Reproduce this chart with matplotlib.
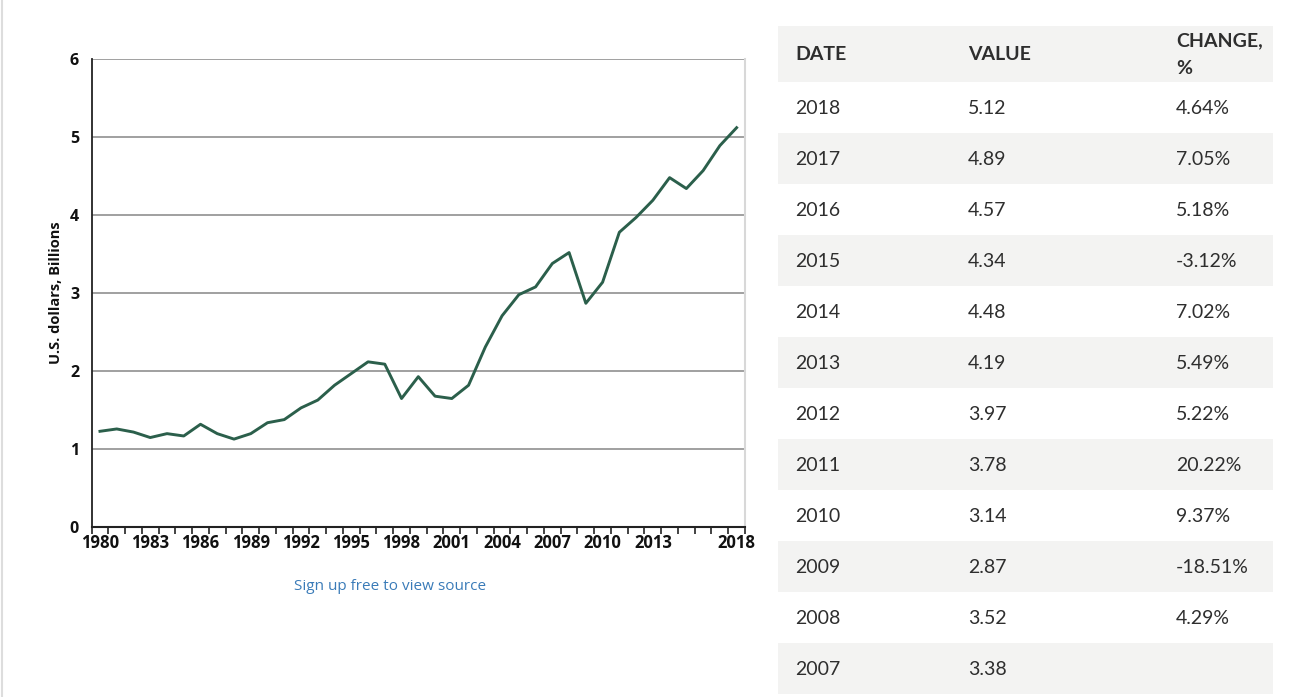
import matplotlib
matplotlib.use("Agg")
import matplotlib.pyplot as plt
from matplotlib.patches import Rectangle
from matplotlib.lines import Line2D

# ---- data ----
years = list(range(1980, 2019))
values = [1.23, 1.26, 1.22, 1.15, 1.20, 1.17, 1.32, 1.20, 1.13, 1.20,
          1.34, 1.38, 1.53, 1.63, 1.82, 1.97, 2.12, 2.09, 1.65, 1.93,
          1.68, 1.65, 1.82, 2.31, 2.71, 2.98, 3.08, 3.38, 3.52, 2.87,
          3.14, 3.78, 3.97, 4.19, 4.48, 4.34, 4.57, 4.89, 5.12]
xtick_labels = [1980, 1983, 1986, 1989, 1992, 1995, 1998, 2001, 2004, 2007, 2010, 2013, 2018]
yticks = [0, 1, 2, 3, 4, 5, 6]

table_header = ["DATE", "VALUE", "CHANGE,", "%"]
table_dates = ["2018", "2017", "2016", "2015", "2014", "2013", "2012", "2011", "2010", "2009", "2008", "2007"]
table_values = ["5.12", "4.89", "4.57", "4.34", "4.48", "4.19", "3.97", "3.78", "3.14", "2.87", "3.52", "3.38"]
table_changes = ["4.64%", "7.05%", "5.18%", "-3.12%", "7.02%", "5.49%", "5.22%", "20.22%", "9.37%", "-18.51%", "4.29%", ""]

W, H = 1292, 697
fig = plt.figure(figsize=(W / 100, H / 100), dpi=100)
fig.patch.set_facecolor("white")

# ---- chart ----
L, R, T, B = 91.6, 745, 59, 527.3
ax = fig.add_axes([L / W, 1 - B / H, (R - L) / W, (B - T) / H])
ax.plot(years, values, color="#2b5f4b", lw=2.1, zorder=3)
ax.set_xlim(1979.5, 2018.5)
ax.set_ylim(0, 6)
ax.set_yticks(yticks)
ax.set_yticklabels([str(v) for v in yticks], fontfamily="Open Sans", fontweight="bold", fontsize=11.5)
ax.tick_params(axis="y", length=0, pad=9, colors="#111111")
for v in yticks[1:]:
    ax.axhline(v, color="#a0a0a0", lw=1.4, zorder=1)
ax.set_xticks([y + 0.5 for y in range(1979, 2019)])
ax.set_xticklabels([])
ax.tick_params(axis="x", which="major", length=5, width=1.2, direction="out", color="#222222")
ax.set_xticks(xtick_labels, minor=True)
ax.set_xticklabels([str(v) for v in xtick_labels], minor=True,
                   fontfamily="Open Sans", fontweight="bold", fontsize=12)
ax.tick_params(axis="x", which="minor", length=0, pad=5, colors="#111111")
ax.spines["top"].set_visible(False)
ax.spines["right"].set_color("#d8d8d8")
ax.spines["right"].set_linewidth(1.5)
ax.spines["left"].set_color("#222222")
ax.spines["left"].set_linewidth(1.3)
ax.spines["bottom"].set_color("#222222")
ax.spines["bottom"].set_linewidth(1.5)
ax.set_ylabel("U.S. dollars, Billions", fontfamily="Open Sans", fontweight="bold",
              fontsize=10.5, color="#111111", labelpad=5)

# ---- overlay in pixel coords ----
ov = fig.add_axes([0, 0, 1, 1], zorder=-1)
ov.set_xlim(0, W)
ov.set_ylim(H, 0)
ov.axis("off")
ov.add_line(Line2D([1.5, 1.5], [0, H], color="#dddddd", lw=1.5))

fig.text(390 / W, 1 - 587 / H, "Sign up free to view source", ha="center", va="center",
         fontfamily="Open Sans", fontsize=11, color="#3a7bb8")

# ---- table ----
tx0, tx1 = 778, 1273
head_top, head_bot = 26, 82
row_h = 51
gray = "#f3f3f2"
ov.add_patch(Rectangle((tx0, head_top), tx1 - tx0, head_bot - head_top, color=gray, lw=0))
col_x = [795, 968, 1176]
txt_col = "#2e2e2e"
tfont = "Lato"
hkw = dict(ha="left", va="center", fontfamily=tfont, fontweight="bold", fontsize=14, color=txt_col)
ov.text(col_x[0], 54, table_header[0], **hkw)
ov.text(col_x[1], 54, table_header[1], **hkw)
ov.text(col_x[2], 41, table_header[2], **hkw)
ov.text(col_x[2], 68, table_header[3], **hkw)
for i, (d, v, c) in enumerate(zip(table_dates, table_values, table_changes)):
    top = head_bot + i * row_h
    if i % 2 == 1:
        ov.add_patch(Rectangle((tx0, top), tx1 - tx0, row_h, color=gray, lw=0))
    yc = top + row_h / 2 + 1
    for x, s in zip(col_x, (d, v, c)):
        ov.text(x, yc, s, ha="left", va="center", fontfamily=tfont, fontsize=14, color=txt_col)

fig.savefig("out.png", dpi=100, facecolor="white")
